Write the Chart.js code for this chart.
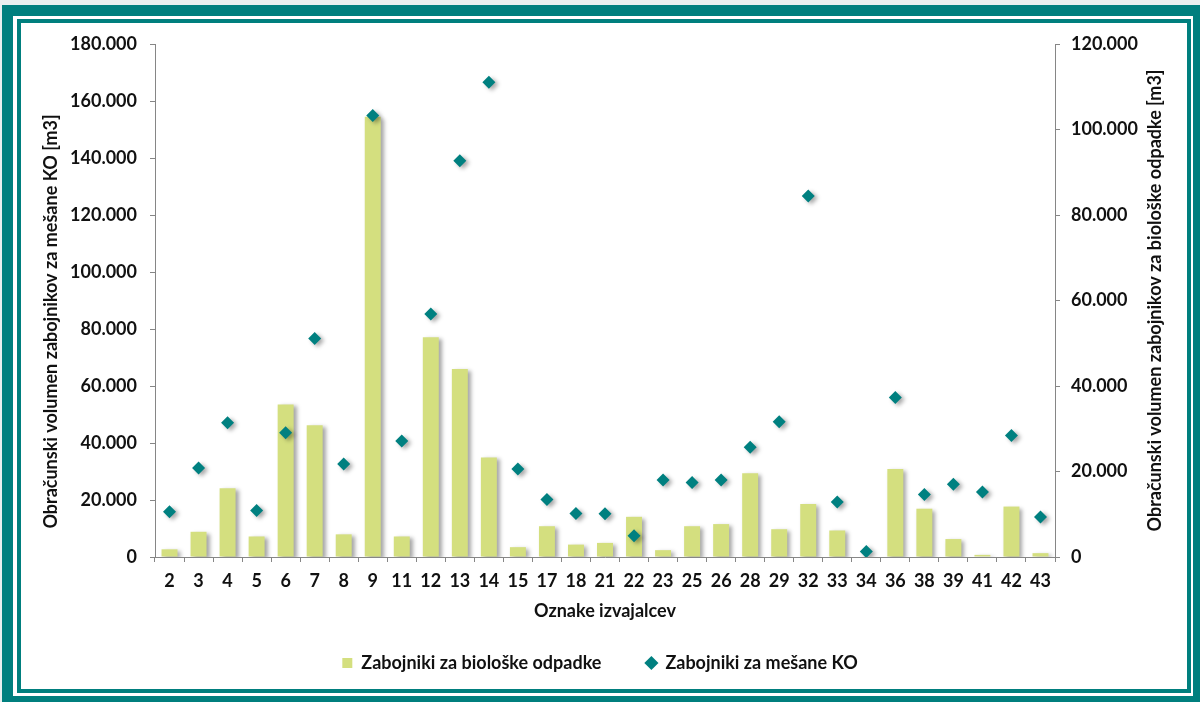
<!DOCTYPE html>
<html>
<head>
<meta charset="utf-8">
<script src="https://cdn.jsdelivr.net/npm/chart.js@4.4.1/dist/chart.umd.min.js"></script>
<style>
html, body { margin: 0; padding: 0; width: 1200px; height: 702px; overflow: hidden; background: #e9efef; }
#outer { position: absolute; left: 2px; top: 5px; width: 1180px; height: 680px; border: 11px solid #007f7e; background: #fff; }
#inner { position: absolute; left: 4px; top: 3px; width: 1166px; height: 666px; border: 4px solid #007f7e; }
#wrap { position: absolute; left: 0; top: 0; width: 1200px; height: 702px; }
</style>
</head>
<body>
<div id="outer"><div id="inner"></div></div>
<div id="wrap"><canvas id="graf"></canvas></div>
<script>
// oznake izvajalcev (x os)
const oznake = ['2','3','4','5','6','7','8','9','11','12','13','14','15','17','18','21','22','23','25','26','28','29','32','33','34','36','38','39','41','42','43'];

// zabojniki za biološke odpadke [m3] - stolpci, desna os
const bioloski = [1800, 5900, 16100, 4800, 35700, 30800, 5300, 103000, 4800, 51400, 44000, 23300, 2300, 7200, 2900, 3300, 9400, 1600, 7200, 7700, 19600, 6500, 12400, 6200, 0, 20600, 11300, 4200, 500, 11800, 900];

// zabojniki za mešane KO [m3] - rombi, leva os
const mesani = [15900, 31200, 47100, 16300, 43600, 76700, 32600, 154900, 40700, 85300, 139000, 166600, 30900, 20200, 15300, 15200, 7500, 27000, 26100, 27000, 38500, 47500, 126700, 19300, 1900, 56000, 21900, 25500, 22800, 42600, 14000];

const naslovLevo = 'Obračunski volumen zabojnikov za mešane KO [m3]';
const naslovDesno = 'Obračunski volumen zabojnikov za biološke odpadke [m3]';
const naslovX = 'Oznake izvajalcev';

const barva = '#111';
const sivaOs = '#868686';
const pisava = { family: 'Lato', weight: 'bold', size: 18 };

function tisocice(v) {
    return String(v).replace(/\B(?=(\d{3})+(?!\d))/g, '.');
}

const senca = {
    id: 'senca',
    beforeDatasetDraw(chart) {
        const ctx = chart.ctx;
        ctx.save();
        ctx.shadowColor = 'rgba(0,0,0,0.35)';
        ctx.shadowBlur = 4;
        ctx.shadowOffsetX = 3;
        ctx.shadowOffsetY = 2;
    },
    afterDatasetDraw(chart) {
        chart.ctx.restore();
    }
};

// naslova obeh y osi, oba brana od spodaj navzgor
function navpicniNaslov(ctx, text, x, y) {
    ctx.save();
    ctx.translate(x, y);
    ctx.rotate(-Math.PI / 2);
    ctx.font = 'bold 18px Lato';
    ctx.fillStyle = barva;
    ctx.textAlign = 'center';
    ctx.textBaseline = 'middle';
    ctx.fillText(text, 0, 0);
    ctx.restore();
}

const naslovaOsi = {
    id: 'naslovaOsi',
    afterDraw(chart) {
        const area = chart.chartArea;
        const sredina = (area.top + area.bottom) / 2;
        navpicniNaslov(chart.ctx, naslovLevo, chart.scales.y.left + 51, sredina + 21);
        navpicniNaslov(chart.ctx, naslovDesno, chart.scales.y1.right - 45, sredina);
    }
};

const os = {
    drawOnChartArea: false,
    drawTicks: true,
    tickLength: 5,
    color: sivaOs
};

new Chart(document.getElementById('graf'), {
    type: 'bar',
    data: {
        labels: oznake,
        datasets: [{
            label: 'Zabojniki za biološke odpadke',
            data: bioloski,
            backgroundColor: '#d4df7f',
            yAxisID: 'y1',
            barPercentage: 0.55,
            categoryPercentage: 1,
            pointStyle: 'rect',
            order: 2
        }, {
            type: 'line',
            label: 'Zabojniki za mešane KO',
            data: mesani,
            yAxisID: 'y',
            showLine: false,
            pointStyle: 'rectRot',
            pointRadius: 6.5,
            pointBackgroundColor: '#008080',
            pointBorderColor: '#008080',
            backgroundColor: '#008080',
            borderColor: '#008080',
            pointBorderWidth: 0,
            order: 1
        }]
    },
    options: {
        responsive: true,
        maintainAspectRatio: false,
        animation: false,
        layout: { padding: { top: 44, left: 0, right: 0, bottom: 20 } },
        plugins: {
            legend: {
                position: 'bottom',
                labels: {
                    usePointStyle: true,
                    boxWidth: 10,
                    boxHeight: 10,
                    padding: 45,
                    color: barva,
                    font: pisava,
                    sort: (a, b) => a.datasetIndex - b.datasetIndex
                }
            },
            tooltip: { enabled: false }
        },
        scales: {
            x: {
                grid: os,
                border: { color: sivaOs },
                ticks: { color: barva, font: pisava, padding: 8, maxRotation: 0, autoSkip: false },
                title: { display: true, text: naslovX, color: barva, font: pisava, padding: { top: 0, bottom: -13 } },
                afterFit(s) { s.height = 52; }
            },
            y: {
                position: 'left',
                min: 0,
                max: 180000,
                grid: os,
                border: { color: sivaOs },
                ticks: { stepSize: 20000, color: barva, font: pisava, padding: 13, callback: tisocice },
                afterFit(s) { s.width = 155; }
            },
            y1: {
                position: 'right',
                min: 0,
                max: 120000,
                grid: os,
                border: { color: sivaOs },
                ticks: { stepSize: 20000, color: barva, font: pisava, padding: 11, callback: tisocice },
                afterFit(s) { s.width = 145; }
            }
        }
    },
    plugins: [senca, naslovaOsi]
});
</script>
</body>
</html>
